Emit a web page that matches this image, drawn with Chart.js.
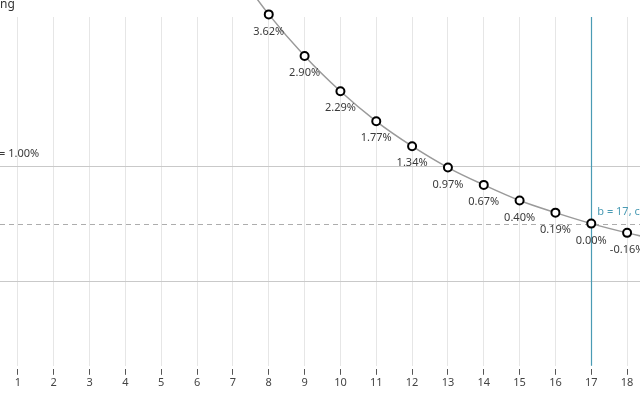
<!DOCTYPE html>
<html>
<head>
<meta charset="utf-8">
<script src="https://cdn.jsdelivr.net/npm/chart.js@4"></script>
<style>
  html, body { margin: 0; padding: 0; background: #fff; }
  #wrap { width: 640px; height: 400px; }
</style>
</head>
<body>
<div id="wrap"><canvas id="chart"></canvas></div>
<script>
// Data (7 and 19 sit just outside the visible window)
const periods = [7, 8, 9, 10, 11, 12, 13, 14, 15, 16, 17, 18, 19];
const rates = [4.46, 3.62, 2.90, 2.29, 1.77, 1.34, 0.97, 0.67, 0.40, 0.19, 0.00, -0.16, -0.30];
const tickValues = [1, 2, 3, 4, 5, 6, 7, 8, 9, 10, 11, 12, 13, 14, 15, 16, 17, 18];
const bandLines = [1, -1];
const zeroLine = 0;
const markerB = 17;

const FONT = "'Noto Sans', 'Open Sans', sans-serif";
const TEAL = '#4a9bb4';

// Reference lines and text drawn with the scales
const overlayPlugin = {
    id: 'overlay',
    beforeDatasetsDraw(chart) {
        const ctx = chart.ctx;
        const x = chart.scales.x, y = chart.scales.y;
        const area = chart.chartArea;
        ctx.save();
        ctx.lineWidth = 1;
        ctx.strokeStyle = '#c9c9c9';
        bandLines.forEach(v => {
            const py = Math.round(y.getPixelForValue(v)) + 0.5;
            ctx.beginPath();
            ctx.moveTo(0, py);
            ctx.lineTo(chart.width, py);
            ctx.stroke();
        });
        ctx.strokeStyle = '#adadad';
        ctx.setLineDash([5, 4]);
        const pz = Math.round(y.getPixelForValue(zeroLine)) + 0.5;
        ctx.beginPath();
        ctx.moveTo(0, pz);
        ctx.lineTo(chart.width, pz);
        ctx.stroke();
        ctx.setLineDash([]);
        ctx.strokeStyle = TEAL;
        ctx.lineWidth = 1.2;
        const pb = Math.round(x.getPixelForValue(markerB)) + 0.5;
        ctx.beginPath();
        ctx.moveTo(pb, area.top);
        ctx.lineTo(pb, area.bottom);
        ctx.stroke();
        ctx.restore();
    },
    afterDatasetsDraw(chart) {
        const ctx = chart.ctx;
        const x = chart.scales.x, y = chart.scales.y;
        ctx.save();
        ctx.font = '11px ' + FONT;
        ctx.fillStyle = '#3a3a3a';
        ctx.textAlign = 'center';
        ctx.textBaseline = 'middle';
        periods.forEach((p, i) => {
            const px = x.getPixelForValue(p);
            const py = y.getPixelForValue(rates[i]);
            ctx.fillText(rates[i].toFixed(2) + '%', px, py + 17);
        });
        ctx.textAlign = 'left';
        ctx.fillText('= 1.00%', -1, y.getPixelForValue(bandLines[0]) - 12);
        ctx.fillStyle = TEAL;
        ctx.fillText('b = ' + markerB + ', c = 0.00%', x.getPixelForValue(markerB) + 6, y.getPixelForValue(zeroLine) - 12);
        ctx.fillStyle = '#333';
        ctx.font = '12px ' + FONT;
        ctx.fillText('ng', 0, 5);
        ctx.restore();
    }
};

const ctx = document.getElementById('chart').getContext('2d');
const chart = new Chart(ctx, {
    type: 'line',
    data: {
        datasets: [{
            data: periods.map((p, i) => ({ x: p, y: rates[i] })),
            borderColor: '#9a9a9a',
            borderWidth: 1.5,
            tension: 0.4,
            cubicInterpolationMode: 'monotone',
            pointRadius: 4,
            pointBackgroundColor: '#fff',
            pointBorderColor: '#000',
            pointBorderWidth: 2,
            clip: false
        }]
    },
    options: {
        responsive: true,
        maintainAspectRatio: false,
        animation: false,
        layout: { autoPadding: false, padding: { top: 17, bottom: 10, left: 0, right: 0 } },
        plugins: {
            legend: { display: false },
            tooltip: { enabled: false }
        },
        scales: {
            x: {
                type: 'linear',
                min: 0.5,
                max: 18.36,
                afterBuildTicks: function(scale) {
                    scale.ticks = tickValues.map(v => ({ value: v }));
                },
                border: { display: false },
                grid: {
                    color: '#e6e6e6',
                    tickColor: '#555',
                    tickLength: 9,
                    tickBorderDash: [0, 3, 6, 100]
                },
                ticks: {
                    padding: 1,
                    maxRotation: 0,
                    autoSkip: false,
                    color: '#444',
                    font: { size: 11, family: FONT }
                }
            },
            y: {
                display: false,
                min: -2.46,
                max: 3.575
            }
        }
    },
    plugins: [overlayPlugin]
});
</script>
</body>
</html>
